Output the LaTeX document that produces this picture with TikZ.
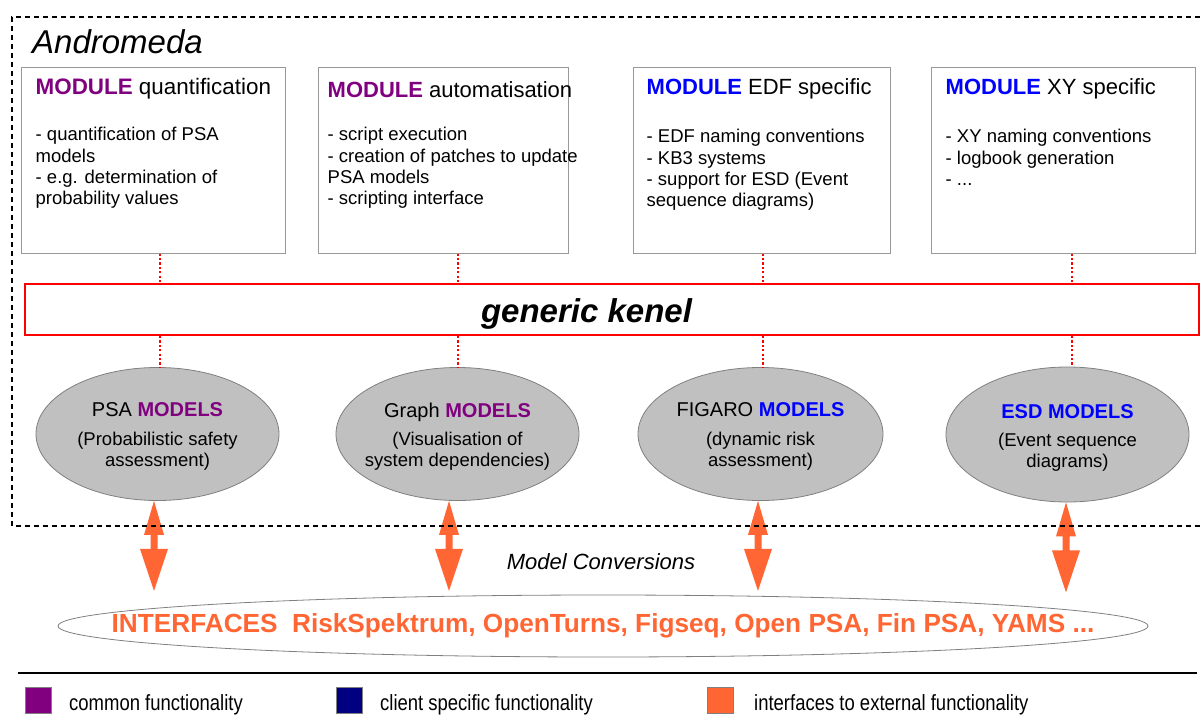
\documentclass[tikz,border=0pt]{standalone}
\usepackage{fontspec}
\setmainfont{Liberation Sans}
\usetikzlibrary{shapes.geometric}
\definecolor{purp}{HTML}{800080}
\definecolor{blu}{HTML}{0000FF}
\definecolor{navyc}{HTML}{000080}
\definecolor{orng}{HTML}{FF6633}
\definecolor{boxgray}{HTML}{999999}
\definecolor{ellgray}{HTML}{C0C0C0}
\definecolor{ellline}{HTML}{808080}
\newcommand\fsz[2]{\fontsize{#1}{#2}\selectfont}
\tikzset{
  modbox/.style={draw=boxgray, line width=1pt, fill=white, inner sep=0pt, minimum height=186pt},
  modtitle/.style={anchor=base west, inner sep=0pt, font=\fsz{22}{26}},
  modbody/.style={anchor=north west, inner sep=0pt, align=left, font=\fsz{18.5}{21.3}},
  kernbox/.style={draw=red, line width=2pt, fill=white, inner sep=0pt, minimum width=1174pt, minimum height=51pt},
  reddot/.style={draw=red, line width=2pt, dash pattern=on 2.2pt off 2.2pt},
  modell/.style={ellipse, draw=ellline, line width=0.8pt, fill=ellgray, inner sep=0pt, minimum width=243pt, minimum height=133pt},
  elltext/.style={align=center, inner sep=0pt, font=\fsz{18.5}{21.3}},
  dbl/.pic={\fill[orng] (0,0) -- (10,34) -- (3.5,34) -- (3.5,48) -- (14,48) -- (0,90) -- (-14,48) -- (-3.5,48) -- (-3.5,34) -- (-10,34) -- cycle;},
  legsq/.style={draw=ellline, line width=0.8pt, minimum width=26pt, minimum height=26pt, inner sep=0pt},
  legtext/.style={anchor=base west, inner sep=0pt, font=\fsz{22}{26}},
}
\begin{document}
\begin{tikzpicture}[x=1pt,y=-1pt]
\useasboundingbox (0,0) rectangle (1200,715);

% module boxes
\node[modbox, minimum width=264pt] (m1) at (153,160) {};
\node[modbox, minimum width=250pt] (m2) at (443,160) {};
\node[modbox, minimum width=257pt] (m3) at (761.5,160) {};
\node[modbox, minimum width=264pt] (m4) at (1063,160) {};

\node[modtitle, font=\fsz{22.4}{26}] (t1) at (m1.north west) [xshift=15pt, yshift=-28pt] {\textbf{\color{purp}MODULE} quantification};
\node[modtitle] (t2) at (m2.north west) [xshift=10pt, yshift=-31pt] {\textbf{\color{purp}MODULE} automatisation};
\node[modtitle] (t3) at (m3.north west) [xshift=14pt, yshift=-28pt] {\textbf{\color{blu}MODULE} EDF specific};
\node[modtitle] (t4) at (m4.north west) [xshift=15pt, yshift=-28pt] {\textbf{\color{blu}MODULE} XY specific};

\node[modbody] (b1) at (m1.north west) [xshift=15pt, yshift=-59.1pt] {\strut- quantification of PSA\\models\\- e.g. determination of\\probability values};
\node[modbody] (b2) at (m2.north west) [xshift=10pt, yshift=-59.1pt] {\strut- script execution\\- creation of patches to update\\PSA models\\- scripting interface};
\node[modbody] (b3) at (m3.north west) [xshift=14pt, yshift=-61.1pt] {\strut- EDF naming conventions\\- KB3 systems\\- support for ESD (Event\\sequence diagrams)};
\node[modbody] (b4) at (m4.north west) [xshift=15pt, yshift=-61.1pt] {\strut- XY naming conventions\\- logbook generation\\- ...};

% kernel
\node[kernbox] (kern) at (612,309.5) {};
\node[anchor=base, inner sep=0pt, font=\fsz{33}{38}\bfseries\itshape] (kt) at (kern.center) [xshift=-25.5pt, yshift=-12.5pt] {generic kenel};

% ellipses
\node[modell] (e1) at (157.5,434) {};
\node[modell] (e2) at (457.5,434) {};
\node[modell, minimum width=245pt] (e3) at (760.5,434) {};
\node[modell, minimum height=135pt] (e4) at (1067.5,434.5) {};

\node[elltext] (e1t) at (e1.center) [yshift=-2.5pt] {{\fsz{20}{24}PSA \textbf{\color{purp}MODELS}}\\[7pt](Probabilistic safety\\assessment)};
\node[elltext] (e2t) at (e2.center) [yshift=-2.5pt] {{\fsz{20}{24}Graph \textbf{\color{purp}MODELS}}\\[7pt](Visualisation of\\system dependencies)};
\node[elltext] (e3t) at (e3.center) [yshift=-2.5pt] {{\fsz{20}{24}FIGARO \textbf{\color{blu}MODELS}}\\[7pt](dynamic risk\\assessment)};
\node[elltext] (e4t) at (e4.center) [yshift=-3.5pt] {{\fsz{20}{24}\textbf{\color{blu}ESD MODELS}}\\[7pt](Event sequence\\diagrams)};

% dotted connectors
\coordinate (c1) at (160,0);
\coordinate (c2) at (458,0);
\coordinate (c3) at (763,0);
\coordinate (c4) at (1072,0);
\draw[reddot] (m1.south -| c1) -- (kern.north -| c1);
\draw[reddot] (m2.south -| c2) -- (kern.north -| c2);
\draw[reddot] (m3.south -| c3) -- (kern.north -| c3);
\draw[reddot] (m4.south -| c4) -- (kern.north -| c4);
\draw[reddot] (kern.south -| c1) -- (e1.north -| c1);
\draw[reddot] (kern.south -| c2) -- (e2.north -| c2);
\draw[reddot] (kern.south -| c3) -- (e3.north -| c3);
\draw[reddot] (kern.south -| c4) -- (e4.north -| c4);

% interfaces
\node[ellipse, draw=ellline, line width=0.8pt, fill=white, inner sep=0pt, minimum width=1090pt, minimum height=62pt] (ifc) at (603,626) {};
\node[inner sep=0pt, font=\fsz{26.2}{30}\bfseries, text=orng] (ifct) at (ifc.center) {INTERFACES\ \ RiskSpektrum, OpenTurns, Figseq, Open PSA, Fin PSA, YAMS ...};

% double arrows
\pic at ([xshift=-3.5pt]e1.south) {dbl};
\pic at ([xshift=-8.5pt]e2.south) {dbl};
\pic at ([xshift=-2.5pt]e3.south) {dbl};
\pic at ([xshift=-1.5pt]e4.south) {dbl};

\node[inner sep=0pt, font=\fsz{22}{26}\itshape] (mc) at (601,562) {Model Conversions};

% outer dashed frame
\draw[line width=2.2pt, dash pattern=on 5pt off 4pt] (1200,17) -- (12,17) -- (12,526) -- (1200,526);
\node[anchor=base west, inner sep=0pt, font=\fsz{33}{38}\itshape] (andro) at (32,53) {Andromeda};

% legend
\coordinate (r1) at (18,673);
\coordinate (r2) at (1197,673);
\draw[line width=1.4pt] (r1) -- (r2);
\node[legsq, fill=purp] (s1) at (38,700) {};
\node[legsq, fill=navyc] (s2) at (349,700) {};
\node[legsq, fill=orng] (s3) at (720,700) {};
\node[legtext] (l1) at (69,710) {\scalebox{0.84}[1]{common functionality}};
\node[legtext] (l2) at (380,710) {\scalebox{0.84}[1]{client specific functionality}};
\node[legtext] (l3) at (754,710) {\scalebox{0.84}[1]{interfaces to external functionality}};
\end{tikzpicture}
\end{document}
